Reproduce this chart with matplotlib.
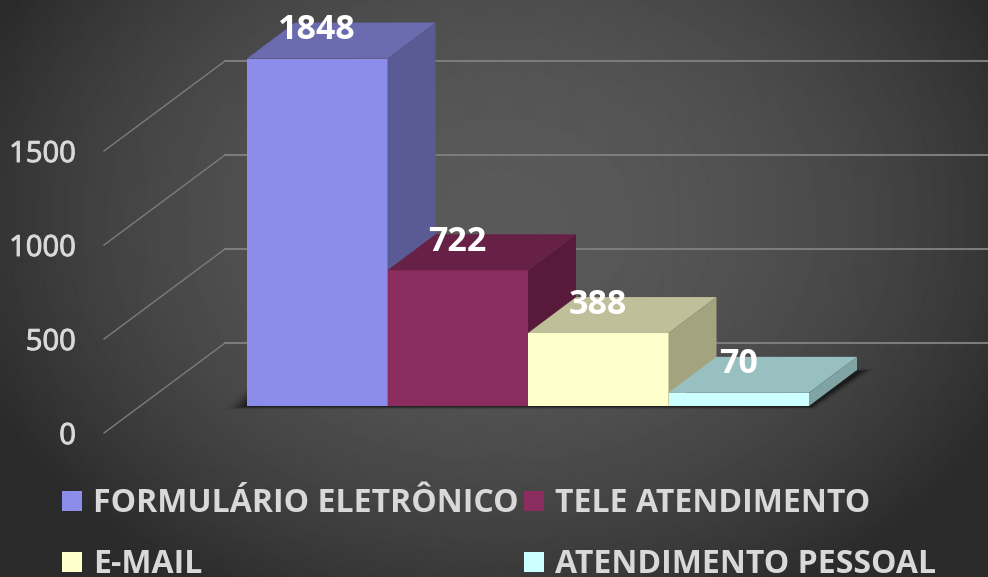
#!/usr/bin/env python3
import numpy as np

import matplotlib
matplotlib.use("Agg")
import matplotlib.pyplot as plt
import matplotlib.patheffects as pe
from matplotlib.patches import Polygon, Rectangle


# Chart data
categories = ["FORMULÁRIO ELETRÔNICO", "TELE ATENDIMENTO", "E-MAIL", "ATENDIMENTO PESSOAL"]
values = [1848, 722, 388, 70]
y_ticks = [0, 500, 1000, 1500]

front_colors = ["#8C8CEB", "#8B2D5E", "#FFFFCC", "#CCFFFF"]
top_colors = ["#6B6BB0", "#682146", "#BFBF99", "#99C0C0"]
side_colors = ["#5A5A94", "#581A3B", "#A3A380", "#80A3A3"]

W, H = 988, 577
PX_PER_UNIT = 0.188      # pixels per value unit
BASE_Y = 406             # pixel row of value 0 on the bar fronts
BAR_X0, BAR_W = 247, 140.5
DEPTH_X, DEPTH_Y = 48, 36


def main():
    plt.rcParams["font.family"] = ["Open Sans", "DejaVu Sans"]

    fig = plt.figure(figsize=(W / 100, H / 100), dpi=100)
    ax = fig.add_axes([0, 0, 1, 1])
    ax.set_xlim(0, W)
    # y is in value units, so the bars go through the axis scale
    ax.set_ylim((BASE_Y - H) / PX_PER_UNIT, BASE_Y / PX_PER_UNIT)
    ax.axis("off")

    to_val = lambda px: (BASE_Y - px) / PX_PER_UNIT
    depth = DEPTH_Y / PX_PER_UNIT
    semibold = [pe.withStroke(linewidth=0.7, foreground="#d9d9d9")]

    # background glow
    yy, xx = np.mgrid[0:H, 0:W]
    r2 = ((xx - 500) / 560.0) ** 2 + ((yy - 220) / 430.0) ** 2
    bg = np.clip(0.35 - 0.18 * r2, 0.17, 0.35)
    ax.imshow(bg, cmap="gray", vmin=0, vmax=1, aspect="auto", zorder=0,
              extent=(0, W, to_val(H), to_val(0)), interpolation="bilinear")

    # gridlines: slanted floor part, then along the back wall
    wall_base = to_val(343)
    front_base = to_val(433)
    for t in y_ticks:
        ax.plot([104, 225], [front_base + t, wall_base + t], color="#7c7c7c", lw=1.0, zorder=1)
        ax.plot([225, W], [wall_base + t, wall_base + t], color="#7c7c7c", lw=1.5, zorder=1)
        ax.text(76, front_base + t - 3.5 / PX_PER_UNIT, str(t), ha="right", va="center",
                fontsize=21, color="#d9d9d9", path_effects=semibold, zorder=5)

    # soft floor shadow
    x_end = BAR_X0 + BAR_W * len(values)
    for grow, a in zip([12, 8, 5, 2, 0], [0.07, 0.1, 0.14, 0.18, 0.24]):
        pts = [(BAR_X0 - 4 - grow * 1.5, to_val(407 + grow * 0.2)),
               (x_end + 2 + grow * 0.3, to_val(407 + grow * 0.2)),
               (x_end + DEPTH_X + 6 + grow, to_val(371 - 0.2 * grow)),
               (BAR_X0 + 20, to_val(371 - 0.2 * grow))]
        ax.add_patch(Polygon(pts, closed=True, fc="black", ec="none", alpha=a, zorder=2))

    # bars, left to right so the nearer faces overlap the previous side
    lefts = [BAR_X0 + i * BAR_W for i in range(len(values))]
    for i, (x, v) in enumerate(zip(lefts, values)):
        z = 3 + i * 0.1
        ax.bar(x, v, width=BAR_W, align="edge", color=front_colors[i], linewidth=0, zorder=z)
        top = [(x, v), (x + BAR_W, v), (x + BAR_W + DEPTH_X, v + depth), (x + DEPTH_X, v + depth)]
        side = [(x + BAR_W, 0), (x + BAR_W + DEPTH_X, depth), (x + BAR_W + DEPTH_X, v + depth), (x + BAR_W, v)]
        ax.add_patch(Polygon(top, closed=True, fc=top_colors[i], ec="none", zorder=z))
        ax.add_patch(Polygon(side, closed=True, fc=side_colors[i], ec="none", zorder=z))

    # data labels
    for x, v in zip(lefts, values):
        ax.annotate(str(v), (x + BAR_W / 2, v), xytext=(0, 20.5), textcoords="offset points",
                    ha="center", va="center", fontsize=24.5, fontweight="bold",
                    color="white", zorder=6)

    # legend, two rows by two columns
    swatch_x = [62, 524, 62, 524]
    swatch_y = [491, 491, 552, 552]
    for i, name in enumerate(categories):
        ax.add_patch(Rectangle((swatch_x[i], to_val(swatch_y[i] + 20)), 20, 20 / PX_PER_UNIT,
                               fc=front_colors[i], ec="none", zorder=5))
        ax.text(swatch_x[i] + 31, to_val(swatch_y[i] + 21), name, ha="left", va="baseline",
                fontsize=23, fontweight="bold", color="#d9d9d9", zorder=5)

    fig.savefig("out.png", dpi=100)
    plt.close(fig)


if __name__ == "__main__":
    main()
